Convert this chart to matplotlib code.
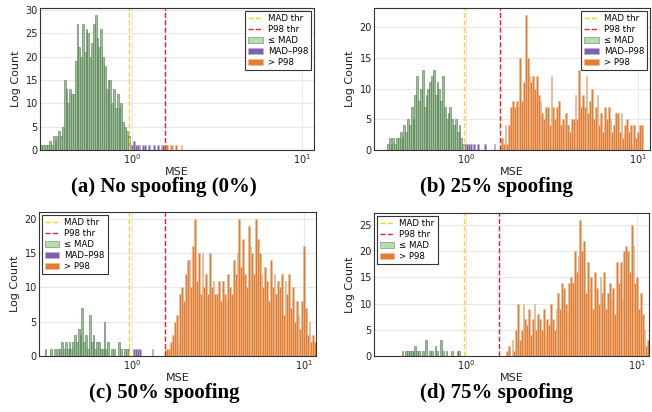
import numpy as np
import matplotlib
matplotlib.use('Agg')
import matplotlib.pyplot as plt

# histogram bins (log spaced) and thresholds
N_BINS = 150
X_LO, X_HI = 0.29, 11.7
MAD_THR = 0.97
P98_THR = 1.56

# counts per bin
counts_a = ([1, 1, 0, 1, 1, 2, 1, 3, 2, 3, 4, 3, 5, 15, 13, 10, 13, 12, 12, 19,
             27, 22, 20, 27, 21, 26, 25, 20, 23, 27, 29, 24, 22, 26, 20, 18, 13, 15, 15, 10,
             13, 9, 12, 9, 10, 6, 5, 4, 3]
            + [1, 1, 2, 1, 1, 1, 0, 1, 1, 0, 1, 0, 0, 1, 0, 1, 0, 1, 1, 1]
            + [1, 0, 1, 1, 0, 1, 0, 0, 1, 0] + [0] * 71)

counts_b = ([0] * 7
            + [1, 2, 1, 2, 1, 2, 2, 3, 2, 4, 3, 5, 4, 7, 5, 9, 12, 8, 10, 13,
               7, 9, 10, 11, 12, 13, 9, 11, 10, 8, 12, 7, 5, 6, 7, 5, 4, 5, 3, 4, 2, 1]
            + [1, 1, 1, 1, 0, 1, 0, 1, 0, 0, 0, 1, 0, 0, 0, 0, 1, 0, 0, 0]
            + [2, 1, 4, 1, 4, 7, 8, 7, 8, 7, 15, 8, 11, 22, 15, 12, 11, 12, 10, 12,
               9, 8, 6, 5, 7, 7, 4, 12, 7, 5, 7, 8, 4, 5, 4, 6, 4, 3, 5, 5,
               9, 5, 13, 7, 9, 7, 12, 6, 8, 10, 5, 7, 9, 4, 6, 3, 7, 5, 7, 5,
               3, 4, 6, 6, 3, 6, 2, 4, 5, 3, 4, 1, 4, 2, 3, 4, 4]
            + [0] * 4)

counts_c = ([0, 0, 0, 1, 0, 0, 1, 0, 1, 0, 1, 1, 2, 1, 2, 1, 2, 1, 2, 3,
             2, 4, 3, 7, 2, 3, 1, 6, 2, 3, 1, 2, 2, 1, 1, 5, 1, 2, 0, 1,
             1, 0, 0, 2, 1, 0, 1, 1, 1]
            + [0, 0, 1, 1, 1, 1, 0, 0, 0, 0, 0, 0, 1, 0, 0, 0, 0, 0, 0, 1]
            + [1, 1, 2, 3, 5, 6, 2, 9, 10, 8, 12, 14, 14, 10, 16, 20, 11, 15, 9, 15,
               10, 12, 9, 15, 10, 11, 9, 9, 11, 8, 11, 9, 8, 12, 10, 9, 14, 12, 15, 20,
               13, 17, 12, 10, 19, 16, 15, 12, 20, 17, 15, 12, 10, 13, 11, 8, 14, 10, 12, 9,
               11, 10, 12, 6, 11, 9, 12, 7, 10, 5, 8, 6, 4, 8, 16, 7, 3, 5, 2, 3, 2])

counts_d = ([0] * 15
            + [1, 0, 1, 1, 1, 1, 1, 2, 1, 1, 0, 1, 0, 3, 0, 1, 1, 0, 2, 1,
               0, 3, 1, 0, 1, 0, 0, 1, 0, 0, 1, 1, 0, 0]
            + [0] * 23
            + [1, 2, 0, 3, 1, 5, 10, 3, 5, 10, 7, 6, 9, 4, 7, 10, 5, 8, 7, 5,
               9, 4, 7, 6, 10, 7, 5, 9, 12, 9, 14, 13, 10, 8, 14, 15, 14, 20, 16, 19,
               26, 20, 22, 12, 18, 13, 15, 9, 16, 13, 10, 15, 12, 16, 9, 12, 14, 11, 13, 8,
               18, 14, 18, 11, 20, 21, 20, 16, 25, 21, 14, 15, 9, 12, 8, 5, 2, 3])

captions = ['(a) No spoofing (0%)', '(b) 25% spoofing',
            '(c) 50% spoofing', '(d) 75% spoofing']
legend_locs = ['upper right', 'upper right', 'upper left', 'upper left']

edges = np.logspace(np.log10(X_LO), np.log10(X_HI), N_BINS + 1)

fig = plt.figure(figsize=(6.52, 4.12), dpi=100)
# axes boxes in pixels: left, top, right, bottom
boxes = [(40, 8, 314, 150), (374, 8, 650, 150),
         (39, 212, 316, 356), (374, 213, 649, 356)]
cap_pos = [(164, 187), (497, 187), (164, 393), (497, 393)]

def draw(ax, counts, loc):
    counts = np.asarray(counts)
    centers = np.sqrt(edges[:-1] * edges[1:])
    widths = np.diff(edges)
    ax.axvline(MAD_THR, color='#ffd21f', ls='--', lw=1.0, label='MAD thr')
    ax.axvline(P98_THR, color='#f0202a', ls='--', lw=1.0, label='P98 thr')
    groups = [
        (centers <= MAD_THR, '#8fbb8a', '#4f6f4f', 0.9, '≤ MAD'),
        ((centers > MAD_THR) & (centers <= P98_THR), '#6e4fa8', '#b9b3c8', 0.9, 'MAD–P98'),
        (centers > P98_THR, '#e8741f', '#dcc0a8', 0.95, '> P98'),
    ]
    for m, fc, ec, al, lab in groups:
        m = m & (counts > 0)
        if not m.any():
            continue
        bars = ax.bar(edges[:-1][m], counts[m], width=widths[m], align='edge',
                      color=fc, edgecolor=ec, linewidth=0.4, alpha=al, label=lab)
        if lab == '≤ MAD':
            bars.set_label('_bars')
            # legend swatch drawn in the lighter green of the reference
            ax.bar([X_LO], [0], width=0, color='#b3dfad', edgecolor='#9a9a9a',
                   linewidth=0.6, label=lab)
    ax.set_xscale('log')
    ax.set_xlim(X_LO, X_HI)
    ax.set_ylim(0, counts.max() * 1.05)
    ax.grid(True, color='#e8e8e8', lw=0.8)
    ax.set_axisbelow(True)
    ax.tick_params(length=0, labelsize=7, colors='#222222', pad=1.5)
    ax.tick_params(which='minor', length=0)
    for s in ax.spines.values():
        s.set_color('#333333')
        s.set_linewidth(0.8)
    ax.set_xlabel('MSE', fontsize=8, color='#222222', labelpad=1)
    ax.set_ylabel('Log Count', fontsize=8, color='#222222', labelpad=3)
    leg = ax.legend(loc=loc, fontsize=6.2, fancybox=False, framealpha=1,
                    edgecolor='#333333', borderpad=0.35, labelspacing=0.25,
                    handlelength=1.7, handletextpad=0.6, borderaxespad=0.3)
    leg.get_frame().set_linewidth(0.8)

all_counts = [counts_a, counts_b, counts_c, counts_d]
for i in range(4):
    l, t, r, b = boxes[i]
    ax = fig.add_axes([l / 652, (412 - b) / 412, (r - l) / 652, (b - t) / 412])
    draw(ax, all_counts[i], legend_locs[i])
    cx, cy = cap_pos[i]
    fig.text(cx / 652, (412 - cy) / 412, captions[i], ha='center', va='center',
             fontsize=15, fontweight='bold', family='Liberation Serif')

fig.savefig('out.png', dpi=100)
